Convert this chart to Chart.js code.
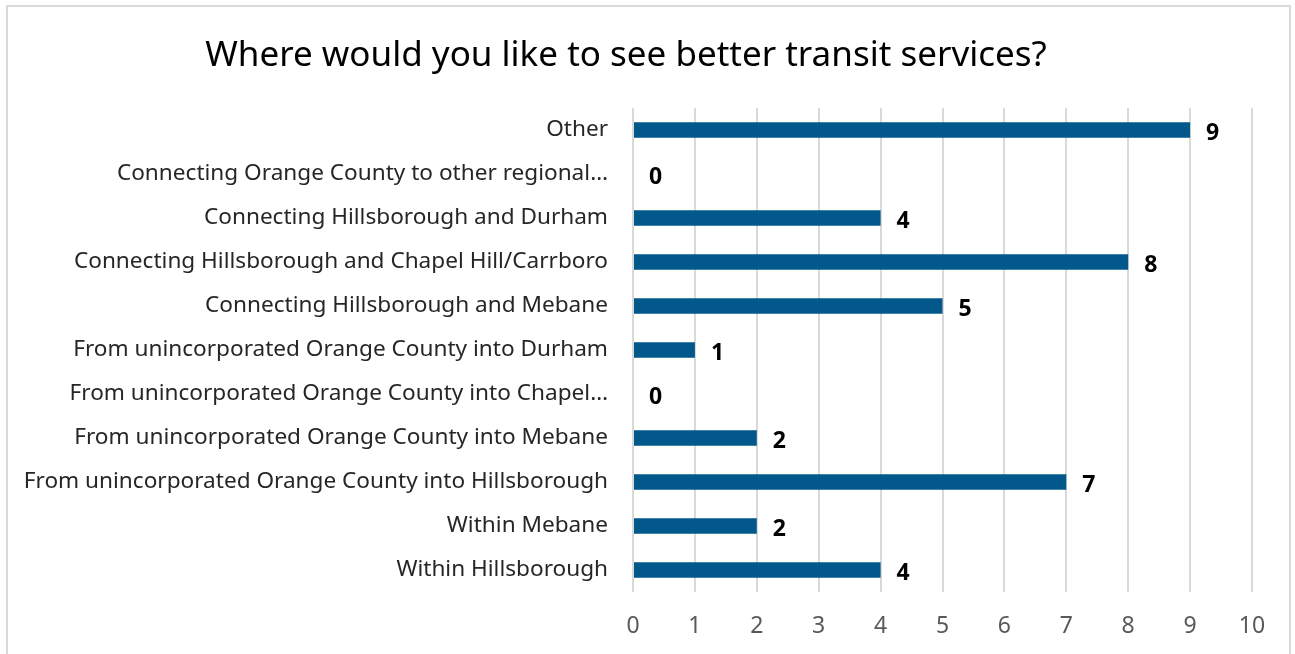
<!DOCTYPE html>
<html>
<head>
<meta charset="utf-8">
<script src="https://cdn.jsdelivr.net/npm/chart.js@4"></script>
<style>
  html, body { margin: 0; padding: 0; background: #fff; overflow: hidden; }
  #wrap { position: relative; width: 1295px; height: 654px; }
  #frame { position: absolute; left: 6px; top: 5px; width: 1285px; height: 700px; border: 2px solid #d9d9d9; box-sizing: border-box; }
  canvas { position: absolute; left: 0; top: 0; }
</style>
</head>
<body>
<div id="wrap">
  <div id="frame"></div>
  <canvas id="chart" width="1295" height="654"></canvas>
</div>
<script>
const categories = [
  'Other',
  'Connecting Orange County to other regional…',
  'Connecting Hillsborough and Durham',
  'Connecting Hillsborough and Chapel Hill/Carrboro',
  'Connecting Hillsborough and Mebane',
  'From unincorporated Orange County into Durham',
  'From unincorporated Orange County into Chapel…',
  'From unincorporated Orange County into Mebane',
  'From unincorporated Orange County into Hillsborough',
  'Within Mebane',
  'Within Hillsborough'
]
const responses = [9, 0, 4, 8, 5, 1, 0, 2, 7, 2, 4]
const xTicks = [0, 1, 2, 3, 4, 5, 6, 7, 8, 9, 10]

const fontFamily = '"Noto Sans", "Open Sans", sans-serif'

// draws the bold value next to each bar end
const valueLabels = {
  id: 'valueLabels',
  afterDatasetsDraw(chart) {
    const c = chart.ctx
    const meta = chart.getDatasetMeta(0)
    c.save()
    c.font = 'bold 23px ' + fontFamily
    c.fillStyle = '#000'
    c.textAlign = 'left'
    c.textBaseline = 'middle'
    meta.data.forEach((bar, i) => {
      c.fillText(String(responses[i]), bar.x + 16, bar.y + 3)
    })
    c.restore()
  }
}

const ctx = document.getElementById('chart')
new Chart(ctx, {
  type: 'bar',
  data: {
    labels: categories,
    datasets: [{
      data: responses,
      backgroundColor: '#02588a',
      borderWidth: 0,
      barPercentage: 0.7,
      categoryPercentage: 0.5
    }]
  },
  options: {
    indexAxis: 'y',
    responsive: false,
    animation: false,
    layout: { padding: { left: 0, right: 43, top: 0, bottom: 0 } },
    plugins: {
      legend: { display: false },
      tooltip: { enabled: false },
      title: {
        display: true,
        text: 'Where would you like to see better transit services?',
        color: '#000',
        font: { family: fontFamily, size: 35, weight: 'normal' },
        padding: { top: 35, bottom: 31 }
      }
    },
    scales: {
      x: {
        min: 0,
        max: 10,
        afterBuildTicks(scale) {
          scale.ticks = xTicks.map(v => ({ value: v }))
        },
        afterFit(scale) { scale.height = 62 },
        grid: { color: '#d9d9d9', lineWidth: 2, drawTicks: false },
        border: { display: false },
        ticks: {
          padding: 21,
          color: '#595959',
          font: { family: fontFamily, size: 23 }
        }
      },
      y: {
        afterFit(scale) { scale.width = 633 },
        grid: { display: false },
        border: { display: false },
        ticks: {
          padding: 17,
          color: '#262626',
          autoSkip: false,
          font: { family: fontFamily, size: 22.6 }
        }
      }
    }
  },
  plugins: [valueLabels]
})
</script>
</body>
</html>
